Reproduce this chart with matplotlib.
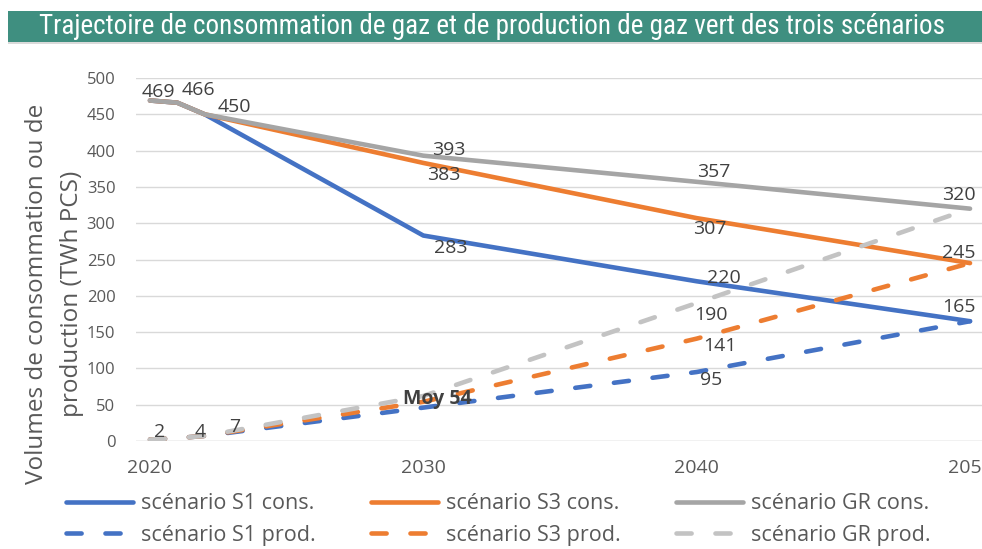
import matplotlib
matplotlib.use("Agg")
import matplotlib.pyplot as plt
from matplotlib import font_manager as fm
from matplotlib.patches import Rectangle
from matplotlib.lines import Line2D

def pick(families):
    for f in families:
        try:
            fm.findfont(fm.FontProperties(family=f), fallback_to_default=False)
            return f
        except Exception:
            continue
    return "DejaVu Sans"

BODY = pick(["Open Sans", "Lato", "DejaVu Sans"])
NARROW = pick(["Liberation Sans Narrow", "Roboto Condensed", "DejaVu Sans"])
plt.rcParams["font.family"] = [BODY, "DejaVu Sans"]

# ---- data ----
title = "Trajectoire de consommation de gaz et de production de gaz vert des trois scénarios"
ylabel = "Volumes de consommation ou de\nproduction (TWh PCS)"
years = [2020, 2021, 2022, 2030, 2040, 2050]
s1_cons = [469, 466, 450, 283, 220, 165]
s3_cons = [469, 466, 450, 383, 307, 245]
gr_cons = [469, 466, 450, 393, 357, 320]
s1_prod = [2, 4, 7, 46, 95, 165]
s3_prod = [2, 4, 7, 54, 141, 245]
gr_prod = [2, 4, 7, 62, 190, 320]
series_names = ["scénario S1 cons.", "scénario S3 cons.", "scénario GR cons.",
                "scénario S1 prod.", "scénario S3 prod.", "scénario GR prod."]
xticks = [2020, 2030, 2040, 2050]
yticks = [0, 50, 100, 150, 200, 250, 300, 350, 400, 450, 500]
moy_2030 = 54

BLUE, ORANGE, GRAY, LGRAY = "#4472C4", "#ED7D31", "#A5A5A5", "#C3C3C3"
TXT = "#404040"
TICK = "#595959"

W, H = 982, 549
fig = plt.figure(figsize=(W / 100, H / 100), dpi=100)

# title bar
fig.patches.append(Rectangle((8 / W, 1 - 42 / H), (982 - 8) / W, 31 / H,
                             transform=fig.transFigure, facecolor="#3F8F80",
                             edgecolor="none", zorder=0))
fig.patches.append(Rectangle((8 / W, 1 - 44 / H), (982 - 8) / W, 2 / H,
                             transform=fig.transFigure, facecolor="#DADADA",
                             edgecolor="none", zorder=0))
fig.text(492 / W, 1 - 27 / H, title, color="white", fontsize=19.5,
         family=[NARROW, "DejaVu Sans"], ha="center", va="center")

ax_l, ax_r = 136.3, 983.7
ax_b, ax_t = 441, 78
ax = fig.add_axes([ax_l / W, 1 - ax_b / H, (ax_r - ax_l) / W, (ax_b - ax_t) / H])
ax.set_xlim(2019.5, 2050.5)
ax.set_ylim(0, 500)
for s in ax.spines.values():
    s.set_visible(False)
ax.set_yticks(yticks)
ax.set_xticks(xticks)
ax.yaxis.grid(True, color="#D9D9D9", lw=1.0)
ax.set_axisbelow(True)
ax.tick_params(length=0, labelcolor=TICK)
ax.tick_params(axis="y", pad=15, labelsize=12)
ax.tick_params(axis="x", pad=13, labelsize=14)
ax.axhline(0, color="#D9D9D9", lw=1.0, zorder=0.5)

LW = 3.3
DASH = (3.3, 5.2)
ax.plot(years, s1_cons, color=BLUE, lw=LW, solid_capstyle="round", solid_joinstyle="round")
ax.plot(years, s3_cons, color=ORANGE, lw=LW, solid_capstyle="round", solid_joinstyle="round")
ax.plot(years, gr_cons, color=GRAY, lw=LW, solid_capstyle="round", solid_joinstyle="round")
ax.plot(years, s1_prod, color=BLUE, lw=LW, dashes=DASH, dash_capstyle="round")
ax.plot(years, s3_prod, color=ORANGE, lw=LW, dashes=DASH, dash_capstyle="round")
ax.plot(years, gr_prod, color=LGRAY, lw=LW, dashes=DASH, dash_capstyle="round")

ax.set_ylabel(ylabel, fontsize=17.5, color=TICK, linespacing=1.6)
ax.yaxis.set_label_coords(-(136.3 - 84) / (ax_r - ax_l), 0.405)

def lab(year, value, dx, dy, text=None, bold=False):
    ax.annotate(text if text is not None else str(value), (year, value),
                xytext=(dx, dy), textcoords="offset pixels", ha="center",
                va="center", fontsize=14, color=TXT,
                fontweight="bold" if bold else "normal")

# consumption labels
lab(years[0], gr_cons[0], 8, 8.5)
lab(years[1], gr_cons[1], 21, 12.7)
lab(years[2], gr_cons[2], 30, 7)
lab(years[3], gr_cons[3], 25, 6)
lab(years[3], s3_cons[3], 20, -12)
lab(years[3], s1_cons[3], 27, -12.5)
lab(years[4], gr_cons[4], 17, 10)
lab(years[4], s3_cons[4], 13, -11)
lab(years[4], s1_cons[4], 27, 3)
lab(years[5], gr_cons[5], -11, 14)
lab(years[5], s3_cons[5], -11, 10)
lab(years[5], s1_cons[5], -11, 14)
# production labels
lab(years[0], gr_prod[0], 10, 7.5)
lab(years[1], gr_prod[1], 23, 6)
lab(years[2], gr_prod[2], 30, 9)
lab(years[3], moy_2030, 14, 3, text=f"Moy {moy_2030}", bold=True)
lab(years[4], gr_prod[4], 14, -12)
lab(years[4], s3_prod[4], 23, -7)
lab(years[4], s1_prod[4], 14, -8)

solid = dict(lw=LW, solid_capstyle="round")
dashed = dict(lw=LW, dashes=DASH, dash_capstyle="round")
groups = [
    (BLUE, BLUE, series_names[0], series_names[3], 66),
    (ORANGE, ORANGE, series_names[1], series_names[4], 371),
    (GRAY, LGRAY, series_names[2], series_names[5], 676),
]
for c1, c2, n1, n2, xpx in groups:
    h = [Line2D([], [], color=c1, **solid), Line2D([], [], color=c2, **dashed)]
    leg = fig.legend(h, [n1, n2], loc="center left",
                     bbox_to_anchor=(xpx / W, 1 - 519.5 / H), frameon=False,
                     fontsize=15.5, handlelength=3.1, handletextpad=0.37,
                     labelspacing=0.47, borderaxespad=0, borderpad=0)
    for t in leg.get_texts():
        t.set_color(TICK)

fig.savefig("out.png", dpi=100)
